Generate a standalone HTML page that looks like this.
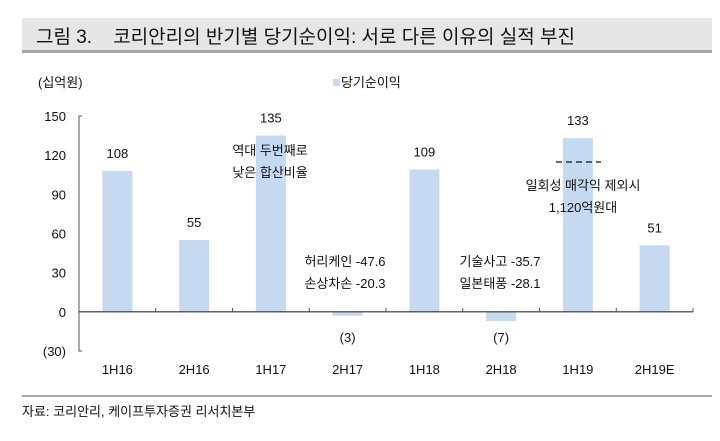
<!DOCTYPE html>
<html><head><meta charset="utf-8"><style>
body{margin:0;background:#fff;}
svg text{font-family:"Liberation Sans","Noto Sans CJK KR",sans-serif;fill:#111;}
</style></head><body>
<svg width="720" height="436" viewBox="0 0 720 436">
<rect x="22" y="18" width="690" height="33" fill="#e6e6e6"/>
<rect x="22" y="50" width="690" height="3" fill="#a6a6a6"/>
<text x="36" y="43" font-size="19">그림 3.&#160;&#160;&#160; 코리안리의 반기별 당기순이익: 서로 다른 이유의 실적 부진</text>
<text x="38" y="87" font-size="13">(십억원)</text>
<rect x="333" y="79" width="7" height="7" fill="#c5d9f1"/>
<text x="341" y="87" font-size="13">당기순이익</text>
<g id="plot"></g>
<text x="270" y="155" font-size="13" text-anchor="middle">역대 두번째로</text>
<text x="270" y="177" font-size="13" text-anchor="middle">낮은 합산비율</text>
<text x="345" y="266" font-size="13" text-anchor="middle">허리케인 -47.6</text>
<text x="345" y="288" font-size="13" text-anchor="middle">손상차손 -20.3</text>
<text x="500" y="266" font-size="13" text-anchor="middle">기술사고 -35.7</text>
<text x="500" y="288" font-size="13" text-anchor="middle">일본태풍 -28.1</text>
<line x1="556" y1="162" x2="601" y2="162" stroke="#111" stroke-width="1.2" stroke-dasharray="6,4"/>
<text x="583" y="190" font-size="13" text-anchor="middle">일회성 매각익 제외시</text>
<text x="583" y="212" font-size="13" text-anchor="middle">1,120억원대</text>
<rect x="22" y="395" width="690" height="2" fill="#a6a6a6"/>
<text x="22" y="416" font-size="13">자료: 코리안리, 케이프투자증권 리서치본부</text>
</svg>
<script>
const categories=["1H16","2H16","1H17","2H17","1H18","2H18","1H19","2H19E"];
const values=[108,55,135,-3,109,-7,133,51];
const valueLabels=["108","55","135","(3)","109","(7)","133","51"];
const yTicks=[150,120,90,60,30,0,-30];
const yTickLabels=["150","120","90","60","30","0","(30)"];
const ns="http://www.w3.org/2000/svg";
const g=document.getElementById('plot');
const x0=79,x1=693,yMin=-30,yMax=150,yTop=116,yBot=351;
const y=v=>yBot-(v-yMin)/(yMax-yMin)*(yBot-yTop);
const band=(x1-x0)/categories.length;
const xc=i=>x0+band*(i+0.5);
function mk(t,a){const e=document.createElementNS(ns,t);for(const k in a)e.setAttribute(k,a[k]);g.appendChild(e);return e;}
yTicks.forEach((v,i)=>{
 const t=mk('text',{x:66,y:y(v)+5,'font-size':13,'text-anchor':'end'});t.textContent=yTickLabels[i];
 
 
});
values.forEach((v,i)=>{
 const r=mk('rect',{x:xc(i)-15,y:Math.min(y(v),y(0)),width:30,height:Math.abs(y(v)-y(0)),fill:'#c5d9f1'});
 
 
 const ly=v>=0?y(v)-13:y(0)+30;
 const t=mk('text',{x:xc(i),y:ly,'font-size':13,'text-anchor':'middle'});t.textContent=valueLabels[i];
 
 
 const c=mk('text',{x:xc(i),y:374,'font-size':13,'text-anchor':'middle'});c.textContent=categories[i];
 
 
});
const ya=mk('path',{d:`M${x0+3} ${yTop}H${x0}V${yBot}H${x0+3}`,stroke:'#555',fill:'none','stroke-width':1});


const xa=mk('line',{x1:x0,x2:x1,y1:y(0),y2:y(0),stroke:'#333','stroke-width':1.2});


for(let i=1;i<=categories.length;i++){
 const tk=mk('line',{x1:x0+band*i,x2:x0+band*i,y1:y(0)-4,y2:y(0),stroke:'#555'});
 
 
}
</script>
</body></html>
